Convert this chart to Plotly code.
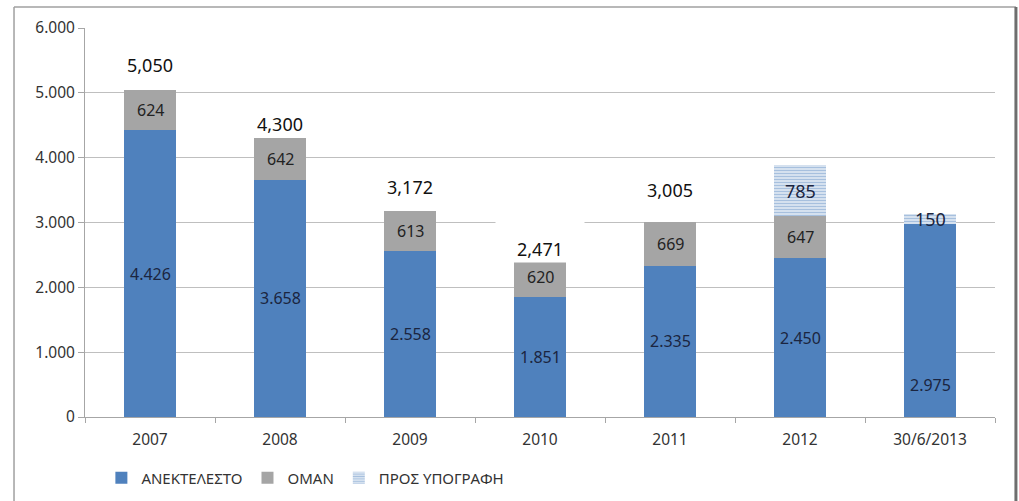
import plotly.graph_objects as go

categories = ["2007", "2008", "2009", "2010", "2011", "2012", "30/6/2013"]
anektelesto = [4426, 3658, 2558, 1851, 2335, 2450, 2975]
oman = [624, 642, 613, 620, 669, 647, 0]
pros_ypografi = [0, 0, 0, 0, 0, 785, 150]
totals_text = ["5,050", "4,300", "3,172", "2,471", "3,005", "", ""]
anek_labels = ["4.426", "3.658", "2.558", "1.851", "2.335", "2.450", "2.975"]
oman_labels = ["624", "642", "613", "620", "669", "647", ""]
pros_labels = ["", "", "", "", "", "785", "150"]
ytick_vals = [0, 1000, 2000, 3000, 4000, 5000, 6000]
ytick_text = ["0", "1.000", "2.000", "3.000", "4.000", "5.000", "6.000"]

BLUE = "#4F81BD"
GRAY = "#A5A5A5"
FONT = "Noto Sans"

fig = go.Figure()
fig.add_trace(go.Bar(name="ΑΝΕΚΤΕΛΕΣΤΟ", x=categories, y=anektelesto,
                     marker=dict(color=BLUE, line=dict(width=0)), width=0.4))
fig.add_trace(go.Bar(name="ΟΜΑΝ", x=categories, y=oman,
                     marker=dict(color=GRAY, line=dict(width=0)), width=0.4))
fig.add_trace(go.Bar(name="ΠΡΟΣ ΥΠΟΓΡΑΦΗ", x=categories, y=pros_ypografi,
                     marker=dict(color="white", line=dict(width=0),
                                 pattern=dict(shape="-", fgcolor=BLUE, bgcolor="white",
                                              size=3, solidity=0.65)),
                     width=0.4))

ann = []
# inside labels (centered in segments); x given as category index
for i, c in enumerate(categories):
    a = anektelesto[i]
    o = oman[i]
    p = pros_ypografi[i]
    ya = a / 2
    if i == len(categories) - 1:
        ya = a * 0.166
    ann.append(dict(x=i, y=ya, text=anek_labels[i], showarrow=False,
                    font=dict(size=16, color="#1B2540", family=FONT)))
    if oman_labels[i]:
        ann.append(dict(x=i, y=a + o / 2, text=oman_labels[i], showarrow=False,
                        font=dict(size=16, color="#222222", family=FONT)))
    if pros_labels[i]:
        ann.append(dict(x=i, y=a + o + p / 2, text=pros_labels[i], showarrow=False,
                        font=dict(size=18, color="#1B2540", family=FONT)))

total_shift = [25, 14, 24, 16, 32, 0, 0]
for i, c in enumerate(categories):
    if totals_text[i]:
        tot = anektelesto[i] + oman[i] + pros_ypografi[i]
        if c == "2010":
            ann.append(dict(x=i, y=tot, text=totals_text[i], showarrow=False,
                            yshift=total_shift[i] + 10, yanchor="middle",
                            bgcolor="white", height=60, width=86, valign="bottom",
                            font=dict(size=18, color="#111111", family=FONT)))
        else:
            ann.append(dict(x=i, y=tot, text=totals_text[i], showarrow=False,
                            yshift=total_shift[i], yanchor="middle",
                            font=dict(size=18, color="#111111", family=FONT)))

fig.update_layout(
    barmode="stack",
    width=1019, height=501,
    margin=dict(l=85, r=24, t=28, b=84),
    paper_bgcolor="white", plot_bgcolor="white",
    font=dict(family=FONT, size=15, color="#333333"),
    showlegend=True,
    legend=dict(orientation="h", x=0.018, xanchor="left",
                yref="container", y=0.046, yanchor="middle",
                font=dict(size=15, color="#333333", family=FONT),
                traceorder="normal", itemwidth=30),
    annotations=ann,
    shapes=[
        dict(type="line", xref="paper", yref="paper", x0=-0.078, x1=1.023,
             y0=1.054, y1=1.054, line=dict(color="#A0A0A0", width=1.5)),
        dict(type="line", xref="paper", yref="paper", x0=-0.078, x1=-0.078,
             y0=1.054, y1=-0.3, line=dict(color="#A0A0A0", width=1.5)),
        dict(type="line", xref="paper", yref="paper", x0=1.023, x1=1.023,
             y0=1.054, y1=-0.3, line=dict(color="#6E6E6E", width=3)),
    ],
)
fig.update_xaxes(type="category", range=[-0.5, 6.5], showline=True, linecolor="#A6A6A6",
                 linewidth=1, ticks="outside", tickson="boundaries", ticklen=5,
                 tickcolor="#A6A6A6", showgrid=False, tickangle=0, automargin=False,
                 ticklabelstandoff=8,
                 tickfont=dict(size=15.5, color="#333333", family=FONT))
fig.update_yaxes(range=[0, 6000], tickvals=ytick_vals, ticktext=ytick_text,
                 showline=True, linecolor="#A6A6A6", linewidth=1, automargin=False,
                 ticks="outside", ticklen=6, tickcolor="#A6A6A6",
                 showgrid=True, gridcolor="#BFBFBF", gridwidth=1, zeroline=False,
                 tickfont=dict(size=15.5, color="#333333", family=FONT))

fig.write_html("out.html", config={"displayModeBar": False},
               post_script="document.body.style.margin='0';document.body.style.overflow='hidden';")
